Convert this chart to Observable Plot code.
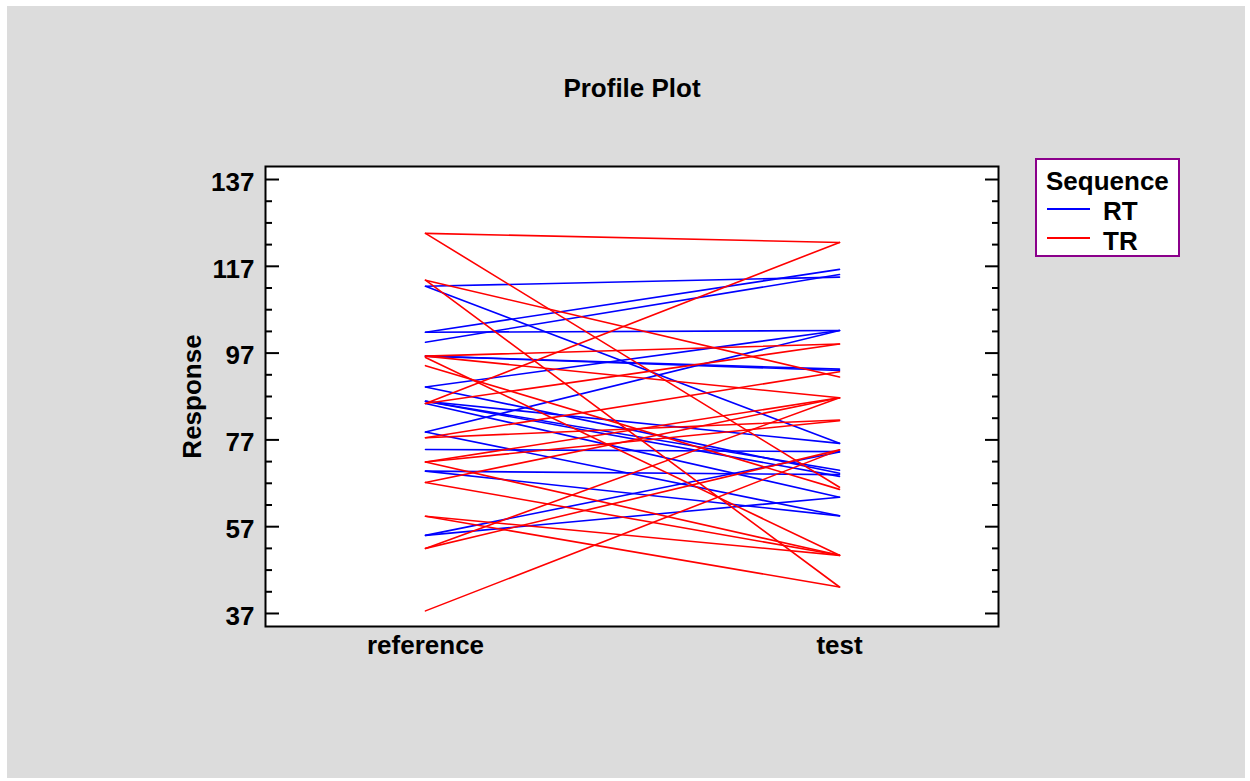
<!DOCTYPE html>
<html>
<head>
<meta charset="utf-8">
<script src="https://cdn.jsdelivr.net/npm/d3@7"></script>
<script src="https://cdn.jsdelivr.net/npm/@observablehq/plot@0.6"></script>
<style>
  body { margin: 0; background: #ffffff; font-family: "Liberation Sans", Arial, sans-serif; }
  #wrap { position: relative; width: 1250px; height: 781px; overflow: hidden; }
  #bg { position: absolute; left: 7px; top: 6px; width: 1238px; height: 772px; background: #dcdcdc; }
  #title { position: absolute; left: 0; top: 73px; width: 1264px; text-align: center; font-weight: bold; font-size: 26px; color: #000; }
  #chart { position: absolute; left: 0; top: 0; }
  #legend { position: absolute; left: 1035px; top: 158px; }
</style>
</head>
<body>
<div id="wrap">
  <div id="bg"></div>
  <div id="chart"></div>
  <div id="title">Profile Plot</div>
  <svg id="legend" width="146" height="100" font-family="Liberation Sans, Arial, sans-serif" font-weight="bold">
    <rect x="1" y="1" width="143" height="97" fill="#ffffff" stroke="#8b008b" stroke-width="2"></rect>
    <text x="11" y="32" font-size="26">Sequence</text>
    <line x1="12" x2="55" y1="51" y2="51" stroke="#0000ff" stroke-width="2"></line>
    <text x="68" y="62" font-size="26">RT</text>
    <line x1="12" x2="55" y1="80" y2="80" stroke="#ff0000" stroke-width="2"></line>
    <text x="68" y="92" font-size="26">TR</text>
  </svg>
</div>
<script>
// Periods (x categories)
const periods = ["reference", "test"];
// Sequences
const sequences = ["RT", "TR"];
// Sequence RT: response at reference and at test, one entry per subject
const rtReference = [112.4, 112.4, 101.8, 99.5, 101.8, 96.3, 96.3, 89.2, 89.2, 85.9, 85.9, 85.9, 85.4, 78.8, 78.8, 74.8, 69.8, 69.8, 55.0, 55.0];
const rtTest      = [114.5, 76.2, 116.3, 115.1, 102.2, 93.3, 93.0, 102.2, 69.3, 76.2, 70.0, 68.6, 63.8, 102.2, 59.5, 74.3, 69.0, 59.5, 63.8, 74.2];
// Sequence TR
const trReference = [124.6, 124.6, 113.8, 113.8, 85.4, 85.4, 96.3, 96.3, 94.1, 96.0, 77.5, 77.5, 71.9, 71.9, 71.9, 67.2, 67.2, 59.4, 59.4, 52.0, 52.0, 37.6];
const trTest      = [122.5, 66.1, 91.5, 43.1, 122.5, 99.1, 99.1, 86.7, 65.6, 50.4, 92.7, 81.6, 86.7, 81.4, 50.4, 86.7, 50.4, 50.4, 43.1, 86.7, 74.7, 74.7];
// Axis ticks
const majorTicks = [37, 57, 77, 97, 117, 137];
const minorTicks = [42, 47, 52, 62, 67, 72, 82, 87, 92, 102, 107, 112, 122, 127, 132];
const yDomain = [34, 140];

const rows = [];
rtReference.forEach((v, i) => {
  rows.push({id: "RT" + i, seq: "RT", period: periods[0], value: v});
  rows.push({id: "RT" + i, seq: "RT", period: periods[1], value: rtTest[i]});
});
trReference.forEach((v, i) => {
  rows.push({id: "TR" + i, seq: "TR", period: periods[0], value: v});
  rows.push({id: "TR" + i, seq: "TR", period: periods[1], value: trTest[i]});
});

const font = "Liberation Sans, Arial, sans-serif";
const chart = Plot.plot({
  width: 1250,
  height: 781,
  marginLeft: 265,
  marginRight: 252,
  marginTop: 166,
  marginBottom: 155,
  style: {background: "transparent", fontFamily: font, color: "#000"},
  x: {type: "point", domain: periods, padding: 0.385, label: null},
  y: {domain: yDomain, label: null},
  color: {domain: sequences, range: ["#0000ff", "#ff0000"]},
  marks: [
    Plot.frame({fill: "#ffffff", stroke: null}),
    Plot.line(rows, {x: "period", y: "value", z: "id", stroke: "seq", strokeWidth: 1.6}),
    Plot.frame({stroke: "#000", strokeWidth: 2}),
    Plot.axisY(majorTicks, {anchor: "left", tickSize: -14, strokeWidth: 2, fill: "none", label: null}),
    Plot.axisY(minorTicks, {anchor: "left", tickSize: -7, strokeWidth: 2, fill: "none", label: null}),
    Plot.axisY(majorTicks, {anchor: "right", tickSize: -14, strokeWidth: 2, fill: "none", label: null}),
    Plot.axisY(minorTicks, {anchor: "right", tickSize: -7, strokeWidth: 2, fill: "none", label: null}),
    Plot.axisY(majorTicks, {anchor: "left", tickSize: 0, tickPadding: 11, dy: 3, fontSize: 26, fontWeight: "bold", fontFamily: font, label: null}),
    Plot.axisX({tickSize: 0, tickPadding: 9, fontSize: 26, fontWeight: "bold", fontFamily: font, label: null}),
    Plot.text(["Response"], {frameAnchor: "left", textAnchor: "middle", lineAnchor: "middle", rotate: -90, dx: -73, fontSize: 26, fontWeight: "bold", fontFamily: font})
  ]
});
document.getElementById("chart").appendChild(chart);
</script>
</body>
</html>
